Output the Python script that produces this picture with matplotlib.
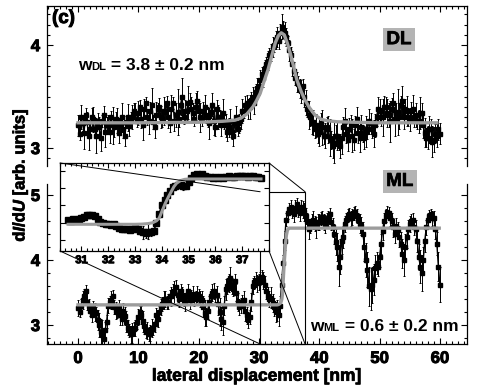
import numpy as np
import matplotlib
matplotlib.use("Agg")
import matplotlib.pyplot as plt
import matplotlib.patheffects as pe
from matplotlib.patches import ConnectionPatch, Rectangle
from matplotlib.offsetbox import TextArea, HPacker, AnchoredOffsetbox
from matplotlib.ticker import MultipleLocator, FixedLocator

plt.rcParams["font.family"] = ["Liberation Sans", "DejaVu Sans"]
plt.rcParams["font.weight"] = "bold"
plt.rcParams["mathtext.fontset"] = "custom"
plt.rcParams["mathtext.rm"] = "Liberation Sans:bold"
plt.rcParams["mathtext.it"] = "Liberation Sans:italic:bold"

# =========================
# DATA
# =========================
# lateral positions [nm], 0.25 nm grid, 0 ... 60
x_scan = np.linspace(0, 60, 241)

# double layer (DL) dI/dU, 20 points (5 nm) per row
dl_y = [
    3.22, 3.14, 3.30, 3.24, 3.15, 3.32, 3.25, 3.12, 3.18, 3.30, 3.28, 3.18, 3.12, 3.26, 3.20, 3.10, 3.26, 3.32, 3.16, 3.22,
    3.24, 3.16, 3.30, 3.22, 3.20, 3.28, 3.27, 3.15, 3.22, 3.30, 3.18, 3.12, 3.25, 3.30, 3.21, 3.28, 3.30, 3.36, 3.34, 3.26,
    3.34, 3.40, 3.28, 3.22, 3.38, 3.44, 3.30, 3.26, 3.36, 3.42, 3.25, 3.20, 3.32, 3.38, 3.40, 3.30, 3.28, 3.36, 3.35, 3.44,
    3.30, 3.24, 3.38, 3.44, 3.26, 3.32, 3.35, 3.28, 3.42, 3.50, 3.30, 3.36, 3.36, 3.44, 3.45, 3.38, 3.34, 3.28, 3.40, 3.46,
    3.36, 3.30, 3.28, 3.36, 3.40, 3.32, 3.30, 3.24, 3.35, 3.42, 3.26, 3.20, 3.38, 3.30, 3.30, 3.22, 3.34, 3.26, 3.22, 3.16,
    3.20, 3.26, 3.16, 3.12, 3.24, 3.30, 3.18, 3.24, 3.28, 3.36, 3.36, 3.42, 3.44, 3.38, 3.40, 3.47, 3.50, 3.44, 3.54, 3.58,
    3.60, 3.66, 3.72, 3.68, 3.78, 3.82, 3.85, 3.90, 3.93, 3.98, 4.00, 4.05, 4.08, 4.04, 4.12, 4.18, 4.15, 4.12, 4.08, 4.02,
    3.95, 3.90, 3.82, 3.75, 3.68, 3.64, 3.62, 3.58, 3.55, 3.60, 3.50, 3.44, 3.38, 3.32, 3.30, 3.24, 3.25, 3.18, 3.22, 3.14,
    3.16, 3.24, 3.20, 3.12, 3.12, 3.20, 3.18, 3.10, 3.08, 3.02, 3.05, 3.12, 3.12, 3.06, 3.02, 3.10, 3.20, 3.26, 3.14, 3.08,
    3.18, 3.24, 3.12, 3.08, 3.22, 3.28, 3.15, 3.10, 3.20, 3.14, 3.10, 3.16, 3.18, 3.26, 3.24, 3.18, 3.14, 3.22, 3.30, 3.38,
    3.36, 3.30, 3.30, 3.40, 3.40, 3.34, 3.32, 3.26, 3.38, 3.44, 3.28, 3.34, 3.35, 3.30, 3.42, 3.46, 3.30, 3.38, 3.36, 3.30,
    3.28, 3.36, 3.38, 3.30, 3.32, 3.26, 3.26, 3.34, 3.34, 3.22, 3.15, 3.10, 3.10, 3.18, 3.18, 3.06, 3.08, 3.14, 3.12, 3.18,
    3.14,
]
dl_err = [
    0.10, 0.06, 0.12, 0.08, 0.16, 0.07, 0.10, 0.14, 0.06, 0.09, 0.12, 0.07, 0.17, 0.08, 0.10, 0.13, 0.06, 0.09, 0.15, 0.08,
    0.08, 0.11, 0.06, 0.18, 0.09, 0.07, 0.12, 0.10, 0.06, 0.14, 0.08, 0.10, 0.06, 0.13, 0.09, 0.07, 0.12, 0.08, 0.10, 0.06,
    0.12, 0.07, 0.09, 0.14, 0.10, 0.06, 0.08, 0.12, 0.09, 0.16, 0.07, 0.10, 0.13, 0.06, 0.09, 0.11, 0.08, 0.14, 0.10, 0.07,
    0.11, 0.08, 0.14, 0.06, 0.09, 0.12, 0.22, 0.08, 0.10, 0.18, 0.07, 0.11, 0.09, 0.16, 0.08, 0.12, 0.10, 0.07, 0.13, 0.09,
    0.10, 0.14, 0.07, 0.09, 0.12, 0.08, 0.10, 0.15, 0.06, 0.11, 0.13, 0.08, 0.09, 0.12, 0.07, 0.10, 0.14, 0.08, 0.11, 0.09,
    0.09, 0.12, 0.07, 0.10, 0.08, 0.11, 0.06, 0.09, 0.10, 0.12, 0.07, 0.09, 0.08, 0.10, 0.12, 0.07, 0.09, 0.11, 0.08, 0.10,
    0.08, 0.10, 0.07, 0.09, 0.08, 0.06, 0.09, 0.07, 0.08, 0.10, 0.07, 0.09, 0.10, 0.08, 0.09, 0.12, 0.08, 0.10, 0.09, 0.07,
    0.10, 0.08, 0.12, 0.09, 0.07, 0.10, 0.08, 0.09, 0.11, 0.07, 0.10, 0.12, 0.08, 0.14, 0.09, 0.10, 0.12, 0.08, 0.11, 0.09,
    0.14, 0.10, 0.17, 0.08, 0.12, 0.10, 0.13, 0.18, 0.09, 0.12, 0.20, 0.10, 0.14, 0.08, 0.12, 0.16, 0.10, 0.13, 0.09, 0.11,
    0.11, 0.08, 0.16, 0.10, 0.09, 0.12, 0.10, 0.14, 0.12, 0.08, 0.11, 0.15, 0.09, 0.12, 0.10, 0.08, 0.13, 0.11, 0.09, 0.12,
    0.12, 0.09, 0.18, 0.11, 0.10, 0.14, 0.12, 0.20, 0.11, 0.09, 0.16, 0.10, 0.22, 0.12, 0.09, 0.14, 0.12, 0.10, 0.15, 0.09,
    0.11, 0.09, 0.14, 0.10, 0.12, 0.08, 0.11, 0.16, 0.10, 0.12, 0.14, 0.09, 0.11, 0.13, 0.10, 0.15, 0.12, 0.09, 0.11, 0.10,
    0.10,
]
dl_fit_x = [0, 10, 20, 24, 26, 27, 28, 29, 29.6, 30.2, 30.8, 31.5, 32.1, 32.7,
            33.2, 33.7, 34.2, 34.7, 35.2, 35.8, 36.3, 37.0, 37.6, 38.4, 39.3,
            40.3, 41.3, 43, 46, 50, 59.5]
dl_fit_y = [3.245, 3.245, 3.25, 3.26, 3.27, 3.29, 3.33, 3.40, 3.46, 3.53, 3.64,
            3.76, 3.89, 4.02, 4.09, 4.12, 4.10, 4.02, 3.92, 3.78, 3.66, 3.55,
            3.47, 3.39, 3.32, 3.28, 3.265, 3.255, 3.25, 3.245, 3.245]

# monolayer (ML) dI/dU, 20 points (5 nm) per row
ml_y = [
    3.26, 3.20, 3.30, 3.38, 3.44, 3.52, 3.36, 3.30, 3.22, 3.16, 3.26, 3.20, 3.18, 3.08, 3.00, 2.90, 2.85, 2.78, 2.92, 3.05,
    3.30, 3.36, 3.38, 3.44, 3.28, 3.22, 3.20, 3.26, 3.15, 3.10, 3.22, 3.14, 3.05, 2.96, 2.92, 2.86, 2.88, 2.94, 2.95, 3.04,
    3.12, 3.20, 3.16, 3.06, 2.98, 2.90, 2.92, 2.86, 2.88, 2.95, 2.94, 3.02, 3.15, 3.10, 3.20, 3.28, 3.32, 3.38, 3.40, 3.34,
    3.36, 3.44, 3.44, 3.52, 3.50, 3.58, 3.46, 3.40, 3.52, 3.45, 3.40, 3.34, 3.46, 3.52, 3.38, 3.44, 3.48, 3.40, 3.42, 3.48,
    3.45, 3.40, 3.38, 3.28, 3.18, 3.12, 3.22, 3.35, 3.45, 3.50, 3.52, 3.46, 3.46, 3.32, 3.20, 3.10, 3.05, 3.30, 3.55, 3.60,
    3.65, 3.72, 3.60, 3.55, 3.68, 3.50, 3.35, 3.28, 3.30, 3.36, 3.38, 3.22, 3.15, 3.08, 3.12, 3.35, 3.60, 3.66, 3.70, 3.64,
    3.66, 3.72, 3.74, 3.68, 3.62, 3.52, 3.45, 3.40, 3.42, 3.34, 3.28, 3.20, 3.22, 3.16, 3.30, 3.62, 3.95, 4.30, 4.62, 4.72,
    4.78, 4.82, 4.74, 4.70, 4.80, 4.86, 4.76, 4.72, 4.82, 4.78, 4.74, 4.68, 4.60, 4.48, 4.52, 4.60, 4.62, 4.56, 4.50, 4.58,
    4.58, 4.64, 4.66, 4.58, 4.55, 4.62, 4.64, 4.70, 4.58, 4.50, 4.40, 4.28, 4.20, 3.90, 4.05, 4.30, 4.35, 4.55, 4.62, 4.68,
    4.70, 4.64, 4.66, 4.72, 4.74, 4.68, 4.62, 4.56, 4.52, 4.40, 4.20, 4.00, 3.85, 3.60, 3.55, 3.62, 3.70, 3.88, 3.95, 3.90,
    4.05, 4.25, 4.45, 4.60, 4.68, 4.74, 4.72, 4.64, 4.60, 4.50, 4.40, 4.52, 4.46, 4.36, 4.25, 4.10, 4.00, 4.20, 4.35, 4.48,
    4.55, 4.60, 4.62, 4.50, 4.48, 4.30, 4.05, 3.90, 3.80, 4.00, 4.30, 4.50, 4.62, 4.68, 4.70, 4.64, 4.65, 4.47, 4.25, 3.90,
    3.62,
]
ml_err = [
    0.12, 0.08, 0.10, 0.14, 0.11, 0.09, 0.13, 0.10, 0.08, 0.12, 0.11, 0.14, 0.10, 0.15, 0.18, 0.20, 0.22, 0.16, 0.12, 0.10,
    0.12, 0.09, 0.14, 0.10, 0.11, 0.13, 0.09, 0.12, 0.15, 0.10, 0.12, 0.14, 0.16, 0.12, 0.10, 0.13, 0.15, 0.11, 0.12, 0.10,
    0.12, 0.10, 0.14, 0.16, 0.12, 0.10, 0.13, 0.11, 0.12, 0.14, 0.10, 0.12, 0.11, 0.13, 0.10, 0.12, 0.11, 0.14, 0.12, 0.10,
    0.12, 0.10, 0.14, 0.11, 0.17, 0.12, 0.10, 0.13, 0.11, 0.14, 0.10, 0.12, 0.09, 0.11, 0.13, 0.10, 0.12, 0.11, 0.10, 0.12,
    0.11, 0.13, 0.14, 0.16, 0.20, 0.14, 0.12, 0.10, 0.11, 0.13, 0.12, 0.10, 0.14, 0.16, 0.22, 0.18, 0.20, 0.14, 0.16, 0.12,
    0.14, 0.18, 0.12, 0.10, 0.11, 0.13, 0.14, 0.12, 0.12, 0.10, 0.14, 0.16, 0.13, 0.12, 0.11, 0.14, 0.12, 0.10, 0.11, 0.13,
    0.12, 0.10, 0.11, 0.13, 0.13, 0.12, 0.14, 0.12, 0.16, 0.14, 0.14, 0.16, 0.16, 0.18, 0.14, 0.16, 0.12, 0.14, 0.10, 0.09,
    0.09, 0.11, 0.10, 0.12, 0.12, 0.09, 0.10, 0.12, 0.11, 0.13, 0.14, 0.12, 0.12, 0.15, 0.11, 0.10, 0.14, 0.12, 0.16, 0.12,
    0.12, 0.10, 0.10, 0.12, 0.14, 0.11, 0.11, 0.10, 0.12, 0.14, 0.16, 0.20, 0.22, 0.30, 0.27, 0.20, 0.17, 0.12, 0.11, 0.10,
    0.10, 0.12, 0.12, 0.10, 0.09, 0.11, 0.11, 0.14, 0.14, 0.18, 0.22, 0.26, 0.27, 0.30, 0.32, 0.28, 0.24, 0.20, 0.17, 0.15,
    0.16, 0.15, 0.14, 0.12, 0.10, 0.09, 0.09, 0.11, 0.12, 0.14, 0.14, 0.12, 0.12, 0.16, 0.18, 0.22, 0.24, 0.20, 0.16, 0.14,
    0.12, 0.10, 0.10, 0.12, 0.14, 0.18, 0.20, 0.25, 0.27, 0.20, 0.17, 0.12, 0.10, 0.09, 0.09, 0.11, 0.11, 0.14, 0.18, 0.22,
    0.27,
]
ml_fit_x = [0, 33.0, 33.25, 33.5, 33.65, 33.8, 33.9, 34.0, 34.13, 34.25, 34.35,
            34.45, 34.55, 34.7, 34.85, 35.0, 35.2, 59.9]
ml_fit_y = [3.31, 3.31, 3.315, 3.33, 3.35, 3.40, 3.47, 3.64, 3.86, 4.03, 4.16,
            4.29, 4.38, 4.45, 4.48, 4.49, 4.49, 4.49]

# inset: high resolution ML step, 0.1 nm grid, 30.5 ... 37.7
x_zoom = np.linspace(30.5, 37.7, 73)
in_y = [
    3.42, 3.40, 3.44, 3.42, 3.46, 3.48, 3.50, 3.54, 3.56, 3.55,
    3.52, 3.46, 3.38, 3.34, 3.32, 3.33, 3.30, 3.33, 3.26, 3.22,
    3.20, 3.18, 3.20, 3.17, 3.20, 3.22, 3.18, 3.14, 3.10, 3.08,
    3.12, 3.10, 3.14, 3.35, 3.58, 3.82, 3.95, 4.06, 4.18, 4.28,
    4.32, 4.34, 4.33, 4.30, 4.32, 4.40, 4.52, 4.60, 4.62, 4.60,
    4.62, 4.58, 4.55, 4.53, 4.52, 4.54, 4.52, 4.53, 4.51, 4.54,
    4.56, 4.53, 4.55, 4.57, 4.56, 4.58, 4.56, 4.55, 4.57, 4.56,
    4.55, 4.54, 4.52,
]
in_err = [
    0.04, 0.03, 0.04, 0.03, 0.05, 0.04, 0.03, 0.04, 0.03, 0.04,
    0.03, 0.04, 0.03, 0.05, 0.04, 0.03, 0.04, 0.03, 0.05, 0.04,
    0.04, 0.05, 0.04, 0.06, 0.05, 0.10, 0.06, 0.08, 0.16, 0.12,
    0.20, 0.10, 0.08, 0.06, 0.05, 0.06, 0.05, 0.04, 0.05, 0.04,
    0.05, 0.04, 0.06, 0.10, 0.05, 0.06, 0.04, 0.08, 0.05, 0.04,
    0.04, 0.03, 0.04, 0.03, 0.04, 0.03, 0.04, 0.03, 0.04, 0.03,
    0.04, 0.03, 0.04, 0.05, 0.03, 0.04, 0.03, 0.04, 0.03, 0.04,
    0.03, 0.04, 0.03,
]
inset_xticks = [31, 32, 33, 34, 35, 36, 37]
zoom_box = (30.2, 37.65, 5.05)   # x0, x1, top of the marked region

FIT_COLOR = "#9c9c9c"
BOX_COLOR = "#b4b4b4"
HEAVY = [pe.withStroke(linewidth=0.7, foreground="k")]
SEMI = [pe.withStroke(linewidth=0.5, foreground="k")]


def style_axis(ax):
    ax.tick_params(which="both", direction="in", width=0.8, top=True, right=True)
    ax.tick_params(which="major", length=4.5)
    ax.tick_params(which="minor", length=2.5)
    for s in ax.spines.values():
        s.set_linewidth(0.9)


def heavy_ticklabels(ax):
    for t in ax.get_xticklabels() + ax.get_yticklabels():
        t.set_path_effects(HEAVY)


def draw_trace(ax, x, y, err, ms=2.8, lw=1.0, elw=0.7):
    ax.errorbar(x, y, yerr=err, fmt="s-", color="k", ms=ms, lw=lw,
                elinewidth=elw, capsize=0.8, capthick=elw, zorder=2)


def label_box(ax, x, y, parts, loc):
    kids = [TextArea(t, textprops=dict(fontsize=s, fontweight="bold")) for t, s in parts]
    pack = HPacker(children=kids, align="baseline", pad=0, sep=0)
    ab = AnchoredOffsetbox(loc=loc, child=pack, pad=0, borderpad=0, frameon=False,
                           bbox_to_anchor=(x, y), bbox_transform=ax.transAxes)
    ax.add_artist(ab)


fig = plt.figure(figsize=(4.88, 3.91), dpi=100)
ax1 = fig.add_axes([0.0963, 0.5754, 0.8607, 0.4092])
ax2 = fig.add_axes([0.0963, 0.1202, 0.8607, 0.4092])
ax_in = fig.add_axes([0.1230, 0.3581, 0.4283, 0.2251])

# ---- top panel (DL)
draw_trace(ax1, x_scan, dl_y, dl_err)
ax1.plot(dl_fit_x, dl_fit_y, color=FIT_COLOR, lw=2.4, zorder=3)
ax1.set_xlim(-5.14, 64.5)
ax1.set_ylim(2.825, 4.38)
style_axis(ax1)
ax1.spines["bottom"].set_visible(False)
ax1.tick_params(which="both", bottom=False, labelbottom=False)
ax1.xaxis.set_major_locator(MultipleLocator(10))
ax1.xaxis.set_minor_locator(MultipleLocator(1))
ax1.yaxis.set_major_locator(MultipleLocator(1))
ax1.yaxis.set_minor_locator(MultipleLocator(0.1))
ax1.tick_params(axis="y", labelsize=12, pad=5)
ax1.text(0.012, 0.975, "(c)", transform=ax1.transAxes, ha="left", va="top",
         fontsize=13.5, fontweight="bold", path_effects=HEAVY)
ax1.text(0.838, 0.79, "DL", transform=ax1.transAxes, ha="center", va="center",
         fontsize=13.5, fontweight="bold", path_effects=SEMI,
         bbox=dict(boxstyle="square,pad=0.18", fc=BOX_COLOR, ec="none"))
label_box(ax1, 0.074, 0.58, [("w", 12.5), ("DL", 8), (" = 3.8 ± 0.2 nm", 12.5)], "lower left")

# ---- bottom panel (ML)
draw_trace(ax2, x_scan, ml_y, ml_err)
ax2.plot(ml_fit_x, ml_fit_y, color=FIT_COLOR, lw=2.4, zorder=3)
ax2.set_xlim(-5.14, 64.5)
ax2.set_ylim(2.708, 5.169)
style_axis(ax2)
ax2.spines["top"].set_visible(False)
ax2.tick_params(which="both", top=False)
ax2.xaxis.set_major_locator(MultipleLocator(10))
ax2.xaxis.set_minor_locator(MultipleLocator(1))
ax2.yaxis.set_major_locator(MultipleLocator(1))
ax2.yaxis.set_minor_locator(MultipleLocator(0.2))
ax2.tick_params(axis="y", labelsize=12, pad=5)
ax2.tick_params(axis="x", labelsize=12, pad=5)
ax2.set_xlabel("lateral displacement [nm]", fontsize=12.5, fontweight="bold", labelpad=2,
               path_effects=SEMI)
ax2.text(0.840, 1.016, "ML", transform=ax2.transAxes, ha="center", va="center",
         fontsize=13.5, fontweight="bold", path_effects=SEMI,
         bbox=dict(boxstyle="square,pad=0.18", fc=BOX_COLOR, ec="none"))
label_box(ax2, 0.979, 0.065, [("w", 12.5), ("ML", 8), (" = 0.6 ± 0.2 nm", 12.5)], "lower right")

y0 = ax2.get_ylim()[0]
ax2.add_patch(Rectangle((zoom_box[0], y0), zoom_box[1] - zoom_box[0], zoom_box[2] - y0,
                        fill=False, ec="k", lw=0.8, zorder=4, clip_on=False))

fig.text(0.041, 0.552, r"d$\mathit{I}$/d$\mathit{U}$ [arb. units]", rotation=90,
         ha="center", va="center", fontsize=12, fontweight="bold", path_effects=SEMI)

# ---- inset
draw_trace(ax_in, x_zoom, in_y, in_err, ms=4.2, lw=1.2, elw=0.8)
ax_in.plot(np.clip(ml_fit_x, x_zoom[0], x_zoom[-1]), ml_fit_y, color=FIT_COLOR, lw=2.2, zorder=3)
ax_in.set_xlim(30.2, 38.0)
ax_in.set_ylim(2.615, 4.907)
style_axis(ax_in)
ax_in.tick_params(which="major", length=3.5)
ax_in.tick_params(which="minor", length=2)
ax_in.xaxis.set_major_locator(FixedLocator(inset_xticks))
ax_in.xaxis.set_minor_locator(MultipleLocator(0.2))
ax_in.yaxis.set_major_locator(FixedLocator([2.9, 3.35, 3.8, 4.25, 4.7]))
ax_in.set_yticklabels([])
ax_in.tick_params(axis="x", labelsize=8, pad=3)

for a in (ax1, ax2, ax_in):
    heavy_ticklabels(a)

# connector lines from inset corners to the marked region
corners = [((0, 1), (zoom_box[0], zoom_box[2])), ((1, 1), (zoom_box[1], zoom_box[2])),
           ((0, 0), (zoom_box[0], y0)), ((1, 0), (zoom_box[1], y0))]
for ca, cb in corners:
    con = ConnectionPatch(xyA=ca, coordsA=ax_in.transAxes, xyB=cb, coordsB=ax2.transData,
                          color="k", lw=0.7, zorder=10)
    fig.add_artist(con)

fig.savefig("out.png", dpi=100)
